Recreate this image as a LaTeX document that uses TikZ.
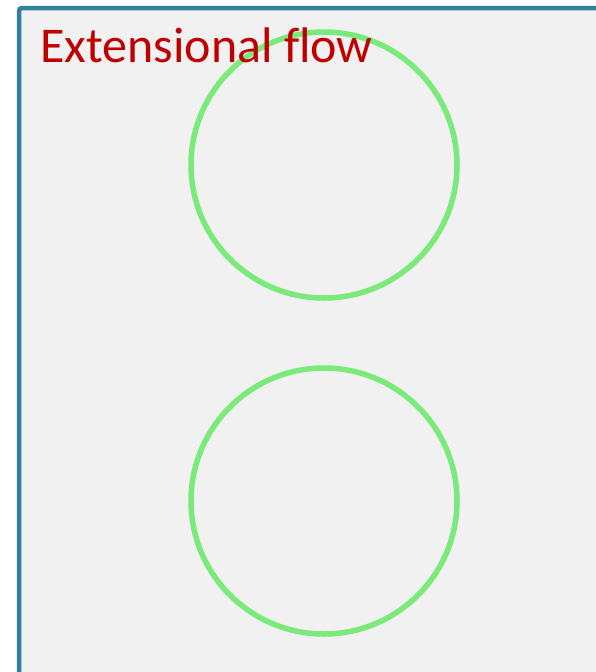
\documentclass[tikz,border=0pt]{standalone}
\usepackage{fontspec}
\setmainfont[Ligatures=NoCommon]{Carlito}
\definecolor{framecol}{RGB}{49,128,158}
\definecolor{panelbg}{RGB}{241,241,241}
\definecolor{titlered}{RGB}{192,0,0}
\definecolor{ringgreen}{RGB}{122,234,122}
\begin{document}
\begin{tikzpicture}[x=1pt,y=-1pt,
  ring/.style={circle,draw=ringgreen,line width=5.5pt,minimum size=266pt,inner sep=0pt},
  title/.style={text=titlered,font=\fontsize{50}{58}\selectfont,inner sep=0pt,anchor=base west}]
\useasboundingbox (0,0) rectangle (596,672);
\clip (0,0) rectangle (596,672);
\fill[white] (0,0) rectangle (596,672);
\draw[framecol,fill=panelbg,line width=4.5pt,rounded corners=3pt] (19,8) rectangle (640,720);
\node[ring] (top) at (324,165) {};
\node[ring] (bottom) at (324,501) {};
\node[title] (lbl) at (40,62) {Extensional flow};
\end{tikzpicture}
\end{document}
